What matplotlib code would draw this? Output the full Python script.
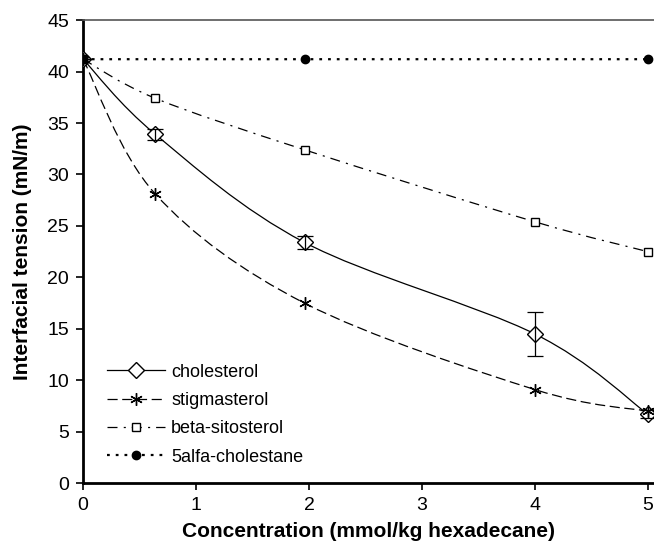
import matplotlib
matplotlib.use("Agg")
import matplotlib.pyplot as plt
import numpy as np
from matplotlib.path import Path
from matplotlib.patches import PathPatch
from matplotlib.lines import Line2D

plt.rcParams['font.family'] = ['Liberation Sans', 'DejaVu Sans']
plt.rcParams['lines.scale_dashes'] = False

conc = [0, 0.64, 1.96, 4, 5]
conc_cholestane = [0, 1.96, 5]

cholesterol = [41.2, 33.9, 23.4, 14.5, 6.7]
cholesterol_err = [0, 0.55, 0.65, 2.15, 0.4]
stigmasterol = [41.2, 28.1, 17.5, 9.1, 7.0]
sitosterol = [41.2, 37.4, 32.4, 25.4, 22.5]
cholestane = [41.2, 41.2, 41.2]

labels = ["cholesterol", "stigmasterol", "beta-sitosterol", "5alfa-cholestane"]


def smooth_path(x, y):
    # Excel-style smoothed line: cubic bezier with Catmull-Rom tangents
    p = np.column_stack([x, y]).astype(float)
    n = len(p)
    verts = [p[0]]
    codes = [Path.MOVETO]
    for i in range(n - 1):
        p0 = p[i - 1] if i > 0 else p[i]
        p3 = p[i + 2] if i + 2 < n else p[i + 1]
        c1 = p[i] + (p[i + 1] - p0) / 6.0
        c2 = p[i + 1] - (p3 - p[i]) / 6.0
        verts += [c1, c2, p[i + 1]]
        codes += [Path.CURVE4] * 3
    return Path(verts, codes)


fig = plt.figure(figsize=(6.54, 5.43), dpi=100)
ax = fig.add_axes([0.127, 0.110, 0.873, 0.853])

styles = [
    dict(ls='-', lw=0.9, marker='D', ms=8, mfc='white'),
    dict(ls=(0, (7.3, 3.3)), lw=0.9, marker=(6, 2, 0), ms=9, mfc='black'),
    dict(ls=(0, (7.2, 4.5, 1.5, 4.3)), lw=0.9, marker='s', ms=5.5, mfc='white'),
    dict(ls=(0, (2.0, 4.3)), lw=1.6, marker='o', ms=6, mfc='black'),
]
series = [(conc, cholesterol), (conc, stigmasterol), (conc, sitosterol),
          (conc_cholestane, cholestane)]

handles = []
for (xs, ys), st, lab in zip(series, styles, labels):
    patch = PathPatch(smooth_path(xs, ys), fill=False, edgecolor='black',
                      lw=st['lw'], linestyle=st['ls'], zorder=2)
    ax.add_patch(patch)
    ax.plot(xs, ys, ls='none', marker=st['marker'], ms=st['ms'],
            mfc=st['mfc'], mec='black', mew=1.0, zorder=3)
    handles.append(Line2D([], [], color='black', lw=st['lw'], ls=st['ls'],
                          marker=st['marker'], ms=st['ms'], mfc=st['mfc'],
                          mec='black', mew=1.0))

ax.errorbar(conc, cholesterol, yerr=cholesterol_err, fmt='none',
            ecolor='black', elinewidth=0.9, capsize=6, capthick=0.9, zorder=3)

ax.set_xlim(0, 5.053)
ax.set_ylim(0, 45)
ax.set_xticks([0, 1, 2, 3, 4, 5])
ax.set_yticks(range(0, 46, 5))
ax.tick_params(direction='out', length=5, width=1.2, labelsize=14, pad=5)

ax.spines['right'].set_visible(False)
ax.spines['top'].set_color('#555555')
ax.spines['top'].set_linewidth(1.2)
ax.spines['left'].set_linewidth(2)
ax.spines['bottom'].set_linewidth(2)

ax.set_xlabel('Concentration (mmol/kg hexadecane)', fontsize=15,
              fontweight='bold', labelpad=6)
ax.set_ylabel('Interfacial tension (mN/m)', fontsize=15,
              fontweight='bold', labelpad=11)

ax.legend(handles, labels, loc='lower left', bbox_to_anchor=(0.014, 0.003),
          frameon=False, fontsize=13, handlelength=3.2, handletextpad=0.33,
          labelspacing=0.63)

fig.savefig('out.png', dpi=100)
